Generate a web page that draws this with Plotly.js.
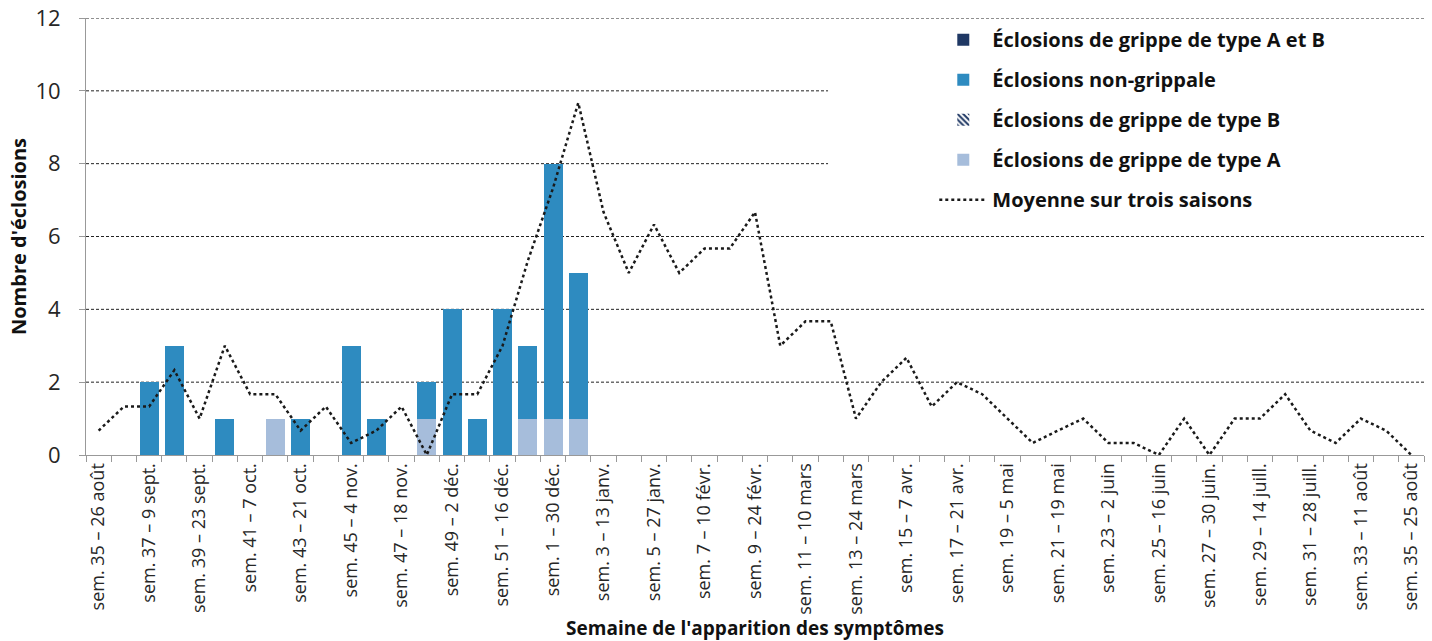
<!DOCTYPE html>
<html>
<head>
<meta charset="utf-8">
<script src="https://cdn.plot.ly/plotly-3.0.1.min.js"></script>
<style>
  html, body { margin: 0; padding: 0; background: #fff; }
  #chart { width: 1432px; height: 641px; }
</style>
</head>
<body>
<div id="chart"></div>
<script>
// Weeks (categories), season sem. 35 to sem. 35
const weeks = [
  "sem. 35 – 26 août", "sem. 36 – 2 sept.", "sem. 37 – 9 sept.", "sem. 38 – 16 sept.",
  "sem. 39 – 23 sept.", "sem. 40 – 30 sept.", "sem. 41 – 7 oct.", "sem. 42 – 14 oct.",
  "sem. 43 – 21 oct.", "sem. 44 – 28 oct.", "sem. 45 – 4 nov.", "sem. 46 – 11 nov.",
  "sem. 47 – 18 nov.", "sem. 48 – 25 nov.", "sem. 49 – 2 déc.", "sem. 50 – 9 déc.",
  "sem. 51 – 16 déc.", "sem. 52 – 23 déc.", "sem. 1 – 30 déc.", "sem. 2 – 6 janv.",
  "sem. 3 – 13 janv.", "sem. 4 – 20 janv.", "sem. 5 – 27 janv.", "sem. 6 – 3 févr.",
  "sem. 7 – 10 févr.", "sem. 8 – 17 févr.", "sem. 9 – 24 févr.", "sem. 10 – 3 mars",
  "sem. 11 – 10 mars", "sem. 12 – 17 mars", "sem. 13 – 24 mars", "sem. 14 – 31 mars",
  "sem. 15 – 7 avr.", "sem. 16 – 14 avr.", "sem. 17 – 21 avr.", "sem. 18 – 28 avr.",
  "sem. 19 – 5 mai", "sem. 20 – 12 mai", "sem. 21 – 19 mai", "sem. 22 – 26 mai",
  "sem. 23 – 2 juin", "sem. 24 – 9 juin", "sem. 25 – 16 juin", "sem. 26 – 23 juin",
  "sem. 27 – 30 juin.", "sem. 28 – 7 juill.", "sem. 29 – 14 juill.", "sem. 30 – 21 juill.",
  "sem. 31 – 28 juill.", "sem. 32 – 4 août", "sem. 33 – 11 août", "sem. 34 – 18 août",
  "sem. 35 – 25 août"
];

// Labels shown under the axis (every second week)
const tickLabels = [
  "sem. 35 – 26 août", "sem. 37 – 9 sept.", "sem. 39 – 23 sept.", "sem. 41 – 7 oct.",
  "sem. 43 – 21 oct.", "sem. 45 – 4 nov.", "sem. 47 – 18 nov.", "sem. 49 – 2 déc.",
  "sem. 51 – 16 déc.", "sem. 1 – 30 déc.", "sem. 3 – 13 janv.", "sem. 5 – 27 janv.",
  "sem. 7 – 10 févr.", "sem. 9 – 24 févr.", "sem. 11 – 10 mars", "sem. 13 – 24 mars",
  "sem. 15 – 7 avr.", "sem. 17 – 21 avr.", "sem. 19 – 5 mai", "sem. 21 – 19 mai",
  "sem. 23 – 2 juin", "sem. 25 – 16 juin", "sem. 27 – 30 juin.", "sem. 29 – 14 juill.",
  "sem. 31 – 28 juill.", "sem. 33 – 11 août", "sem. 35 – 25 août"
];

// y-axis tick values
const yTicks = [0, 2, 4, 6, 8, 10, 12];

const _ = null;
// Éclosions de grippe de type A
const fluA = [0,0,0,0,0,0,0,1,0,0, 0,0,0,1,0,0,0,1,1,1,
  _,_,_,_,_,_,_,_,_,_, _,_,_,_,_,_,_,_,_,_, _,_,_,_,_,_,_,_,_,_, _,_,_];
// Éclosions de grippe de type B
const fluB = [0,0,0,0,0,0,0,0,0,0, 0,0,0,0,0,0,0,0,0,0,
  _,_,_,_,_,_,_,_,_,_, _,_,_,_,_,_,_,_,_,_, _,_,_,_,_,_,_,_,_,_, _,_,_];
// Éclosions non-grippale
const nonFlu = [0,0,2,3,0,1,0,0,1,0, 3,1,0,1,4,1,4,2,7,4,
  _,_,_,_,_,_,_,_,_,_, _,_,_,_,_,_,_,_,_,_, _,_,_,_,_,_,_,_,_,_, _,_,_];
// Éclosions de grippe de type A et B
const fluAB = [0,0,0,0,0,0,0,0,0,0, 0,0,0,0,0,0,0,0,0,0,
  _,_,_,_,_,_,_,_,_,_, _,_,_,_,_,_,_,_,_,_, _,_,_,_,_,_,_,_,_,_, _,_,_];
// Moyenne sur trois saisons
const avg3 = [0.67,1.33,1.33,2.33,1,3,1.67,1.67,0.67,1.33,
  0.33,0.67,1.33,0,1.67,1.67,3,5.33,7.33,9.67,
  6.67,5,6.33,5,5.67,5.67,6.67,3,3.67,3.67,
  1,2,2.67,1.33,2,1.67,1,0.33,0.67,1,
  0.33,0.33,0,1,0,1,1,1.67,0.67,0.33,
  1,0.67,0];

const tickText = weeks.map(w => tickLabels.includes(w) ? w : "");

const colAB = "#1f3864";
const colNon = "#2e8bc0";
const colB = "#1f3864";
const colA = "#a6bddb";

const traces = [
  { type: "bar", name: "Éclosions de grippe de type A", x: weeks, y: fluA,
    marker: { color: colA }, legendrank: 4, legendgroup: "a" },
  { type: "bar", name: "Éclosions de grippe de type B", x: weeks, y: fluB,
    marker: { color: "#ffffff", pattern: { shape: "\\", fgcolor: colB, bgcolor: "#ffffff", size: 5, solidity: 0.5 } },
    legendrank: 3, legendgroup: "b" },
  { type: "bar", name: "Éclosions non-grippale", x: weeks, y: nonFlu,
    marker: { color: colNon }, legendrank: 2, legendgroup: "n" },
  { type: "bar", name: "Éclosions de grippe de type A et B", x: weeks, y: fluAB,
    marker: { color: colAB }, legendrank: 1, legendgroup: "ab" },
  { type: "scatter", mode: "lines", name: "Moyenne sur trois saisons", x: weeks, y: avg3,
    line: { color: "#1a1a1a", width: 2.5, dash: "dot" }, legendrank: 5, legendgroup: "m" }
];

// Dotted gridlines (the legend box of the original hides the right part of 8 and 10)
const legendLeft = 0.5546;
const gridShapes = yTicks.filter(v => v > 0).map(v => ({
  type: "line", xref: "paper", yref: "y",
  x0: 0, x1: (v === 8 || v === 10) ? legendLeft : 1, y0: v, y1: v,
  line: { color: "#222", width: 1, dash: "3px,2px" }, layer: "below"
}));

const layout = {
  width: 1432, height: 641,
  margin: { l: 86, r: 8, t: 18, b: 186 },
  paper_bgcolor: "#ffffff", plot_bgcolor: "#ffffff",
  barmode: "stack", bargap: 0.25,
  font: { family: "Open Sans, Liberation Sans, sans-serif", color: "#262626" },
  showlegend: true,
  legend: {
    x: 0.634, xanchor: "left", y: 0.995, yanchor: "top",
    bgcolor: "rgba(255,255,255,1)",
    font: { size: 20, color: "#111", family: "Open Sans, sans-serif", weight: "bold" },
    traceorder: "grouped", tracegroupgap: 11, itemwidth: 48
  },
  xaxis: {
    type: "category", categoryorder: "array", categoryarray: weeks,
    tickmode: "array", tickvals: weeks, ticktext: tickText,
    tickson: "boundaries", ticks: "outside", ticklen: 6, tickcolor: "#999",
    tickangle: -90, tickfont: { size: 18, color: "#262626" },
    showline: true, linecolor: "#999", linewidth: 1, showgrid: false,
    range: [-0.5, 52.5], fixedrange: true,
    title: { text: "Semaine de l'apparition des symptômes", standoff: 4,
      font: { size: 19, weight: "bold", color: "#111" } }
  },
  yaxis: {
    range: [0, 12], tickmode: "array", tickvals: yTicks,
    ticks: "outside", ticklen: 6, tickcolor: "#999", ticklabelstandoff: 14,
    tickfont: { size: 22, color: "#262626" },
    showline: true, linecolor: "#999", linewidth: 1,
    showgrid: false, zeroline: false, fixedrange: true,
    title: { text: "Nombre d'éclosions", standoff: 3,
      font: { size: 20, weight: "bold", color: "#111" } }
  },
  shapes: gridShapes
};

Plotly.newPlot("chart", traces, layout, { displayModeBar: false, staticPlot: true });
</script>
</body>
</html>
